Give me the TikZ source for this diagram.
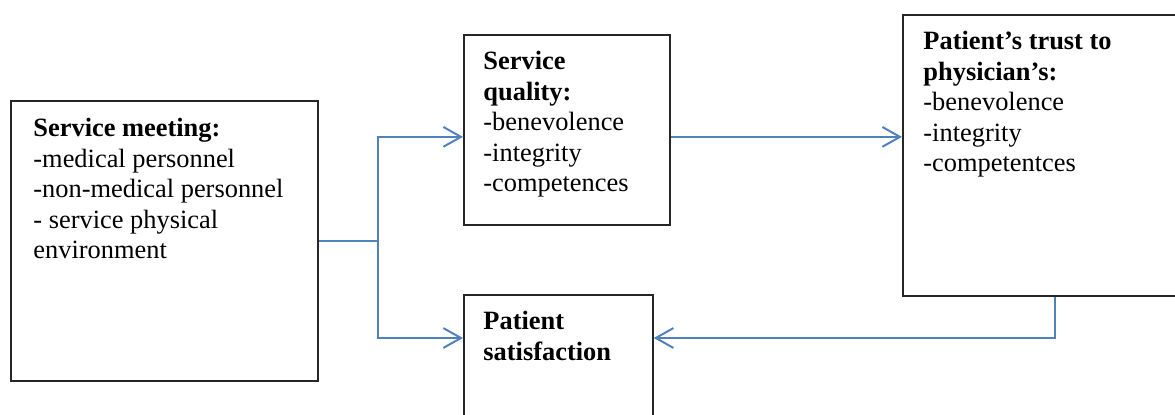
\documentclass[tikz,border=0pt]{standalone}
\usepackage{fontspec}
\setmainfont{Liberation Serif}
\usetikzlibrary{arrows.meta,calc,positioning}

\definecolor{linkblue}{RGB}{79,129,189}

\newlength{\pu}
\setlength{\pu}{0.4545pt}

\tikzset{
  box/.style={draw=black!85, line width=0.8pt, rectangle, inner sep=0pt, anchor=north west},
  txt/.style={align=left, inner sep=0pt, font=\fontsize{12}{13.85}\selectfont},
  link/.style={draw=linkblue, line width=0.9pt},
  arr/.style={link, -{Straight Barb[length=8pt,width=9pt]}},
}

\begin{document}
\begin{tikzpicture}[x=\pu, y=-\pu]
  \useasboundingbox (0,0) rectangle (1175,414);

  % Define nodes
  \node[box, minimum width=307\pu, minimum height=280\pu] (meet)    at (10,100) {};
  \node[box, minimum width=206\pu, minimum height=190\pu] (quality) at (463,34)  {};
  \node[box, minimum width=280\pu, minimum height=281\pu] (trust)   at (902,14)  {};
  \node[box, minimum width=189\pu, minimum height=140\pu] (sat)     at (463,294) {};

  \node[txt, below right=18\pu and 23\pu of meet.north west] (meet-txt)
    {\textbf{Service meeting:}\\-medical personnel\\-non-medical personnel\\- service physical\\environment};
  \node[txt, below right=17\pu and 20\pu of quality.north west] (quality-txt)
    {\textbf{Service}\\\textbf{quality:}\\-benevolence\\-integrity\\-competences};
  \node[txt, below right=17\pu and 21\pu of trust.north west] (trust-txt)
    {\textbf{Patient’s trust to}\\\textbf{physician’s:}\\-benevolence\\-integrity\\-competentces};
  \node[txt, below right=17\pu and 20\pu of sat.north west] (sat-txt)
    {\textbf{Patient}\\\textbf{satisfaction}};

  % Connect the nodes
  \coordinate[right=59\pu of meet.east] (split);
  \coordinate[below=7\pu of quality.west] (q-in);
  \coordinate[below=7\pu of quality.east] (q-out);
  \coordinate[below=44\pu of sat.north west] (s-in);
  \coordinate (s-out) at (s-in -| sat.east);
  \coordinate[right=153\pu of trust.south west] (t-out);

  \draw[link] (meet.east) -- (split);
  \draw[arr] (split) |- (q-in);
  \draw[arr] (split) |- (s-in);
  \draw[arr] (q-out) -- (q-out -| trust.west);
  \draw[arr] (t-out) |- (s-out);

\end{tikzpicture}
\end{document}
